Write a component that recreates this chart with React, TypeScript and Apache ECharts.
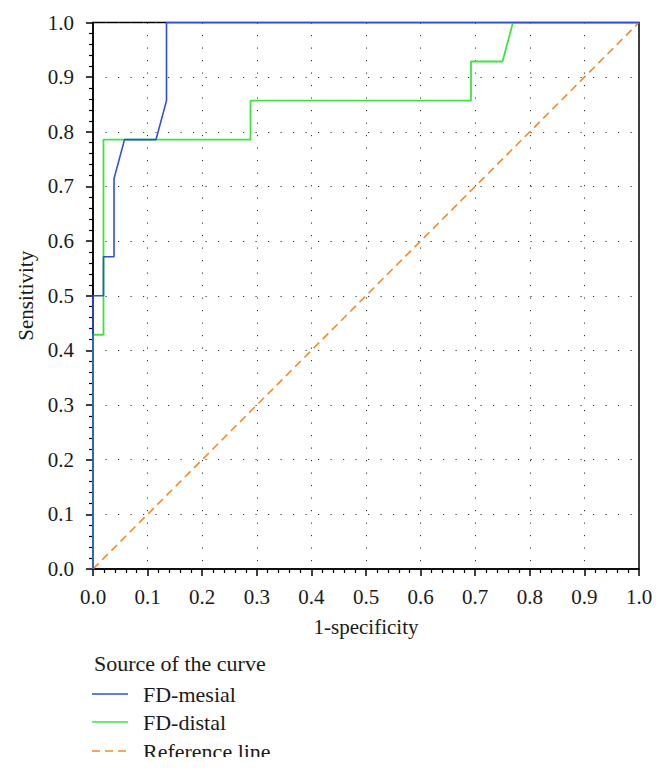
import React, { useEffect, useRef } from "react";
import * as echarts from "echarts";

// FD-mesial ROC curve: [1-specificity, sensitivity]
const mesialX = [0, 0, 0.0192, 0.0192, 0.0385, 0.0385, 0.0577, 0.1154, 0.1346, 0.1346, 1.0];
const mesialY = [0, 0.5, 0.5, 0.5714, 0.5714, 0.7143, 0.7857, 0.7857, 0.8571, 1.0, 1.0];

// FD-distal ROC curve
const distalX = [0, 0, 0.0192, 0.0192, 0.2885, 0.2885, 0.6923, 0.6923, 0.75, 0.7692, 1.0];
const distalY = [0, 0.4286, 0.4286, 0.7857, 0.7857, 0.8571, 0.8571, 0.9286, 0.9286, 1.0, 1.0];

// Reference (chance) line
const refX = [0, 1];
const refY = [0, 1];

const seriesNames = ["FD-mesial", "FD-distal", "Reference line"];
const seriesColors = ["#2f4fd6", "#3fe43f", "#f28a2c"];
const legendTitle = "Source of the curve";
const xName = "1-specificity";
const yName = "Sensitivity";

const FONT = "'Liberation Serif', 'DejaVu Serif', serif";
const FS = 21;
const LFS = 22;

const zip = (xs: number[], ys: number[]) => xs.map((x, i) => [x, ys[i]]);

export default function App() {
  const ref = useRef<HTMLDivElement>(null);
  useEffect(() => {
    if (!ref.current) return;
    const chart = echarts.init(ref.current, undefined, { renderer: "svg" });
    const axisCommon = {
      type: "value" as const,
      min: 0,
      max: 1,
      interval: 0.1,
      axisLine: { show: true, lineStyle: { color: "#000", width: 1.5 } },
      axisTick: { show: true, inside: false, length: 7, lineStyle: { color: "#000", width: 1.5 } },
      minorTick: { show: true, splitNumber: 5, length: 4, lineStyle: { color: "#000", width: 1.2 } },
      splitLine: { show: true, lineStyle: { color: "#333", width: 1, type: [1.2, 11.3] } },
      axisLabel: {
        fontFamily: FONT,
        fontSize: FS,
        color: "#1a1a1a",
        formatter: (v: number) => v.toFixed(1),
      },
      nameLocation: "middle" as const,
      nameTextStyle: { fontFamily: FONT, fontSize: FS, color: "#1a1a1a" },
    };

    const legendRows = [694, 722, 751];
    const legendGraphics: any[] = [
      {
        type: "text",
        x: 94,
        y: 663,
        style: {
          text: legendTitle,
          font: `${LFS}px ${FONT}`,
          fill: "#1a1a1a",
          verticalAlign: "middle",
          textVerticalAlign: "middle",
        },
      },
    ];
    seriesNames.forEach((name, i) => {
      legendGraphics.push({
        type: "line",
        shape: { x1: 92, y1: legendRows[i], x2: 128, y2: legendRows[i] },
        style: {
          stroke: seriesColors[i],
          lineWidth: 1.6,
          lineDash: i === 2 ? [8, 5] : null,
        },
      });
      legendGraphics.push({
        type: "text",
        x: 143,
        y: legendRows[i],
        style: {
          text: name,
          font: `${LFS}px ${FONT}`,
          fill: "#1a1a1a",
          verticalAlign: "middle",
          textVerticalAlign: "middle",
        },
      });
    });
    legendGraphics.push({
      type: "rect",
      shape: { x: 0, y: 757, width: 665, height: 14 },
      style: { fill: "#fff" },
      z: 100,
    });

    chart.setOption({
      animation: false,
      backgroundColor: "#fff",
      graphic: legendGraphics,
      grid: {
        left: 93,
        top: 22.5,
        right: 26,
        bottom: 202,
        show: true,
        borderColor: "#000",
        borderWidth: 1.5,
        containLabel: false,
      },
      xAxis: {
        ...axisCommon,
        name: xName,
        nameGap: 47,
        axisLabel: { ...axisCommon.axisLabel, margin: 17 },
      },
      yAxis: {
        ...axisCommon,
        name: yName,
        nameGap: 56,
        axisLabel: { ...axisCommon.axisLabel, margin: 19 },
      },
      series: [
        {
          name: seriesNames[2],
          type: "line",
          data: zip(refX, refY),
          symbol: "none",
          lineStyle: { color: seriesColors[2], width: 1.6, type: [8, 5] },
          itemStyle: { color: seriesColors[2] },
          z: 1,
        },
        {
          name: seriesNames[1],
          type: "line",
          data: zip(distalX, distalY),
          symbol: "none",
          lineStyle: { color: seriesColors[1], width: 1.8 },
          itemStyle: { color: seriesColors[1] },
          z: 2,
        },
        {
          name: seriesNames[0],
          type: "line",
          data: zip(mesialX, mesialY),
          symbol: "none",
          lineStyle: { color: seriesColors[0], width: 1.6 },
          itemStyle: { color: seriesColors[0] },
          z: 3,
        },
      ],
    });
    return () => chart.dispose();
  }, []);
  return (
    <div
      ref={ref}
      style={{ position: "fixed", left: 0, top: 0, width: 665, height: 771, background: "#fff" }}
    />
  );
}
